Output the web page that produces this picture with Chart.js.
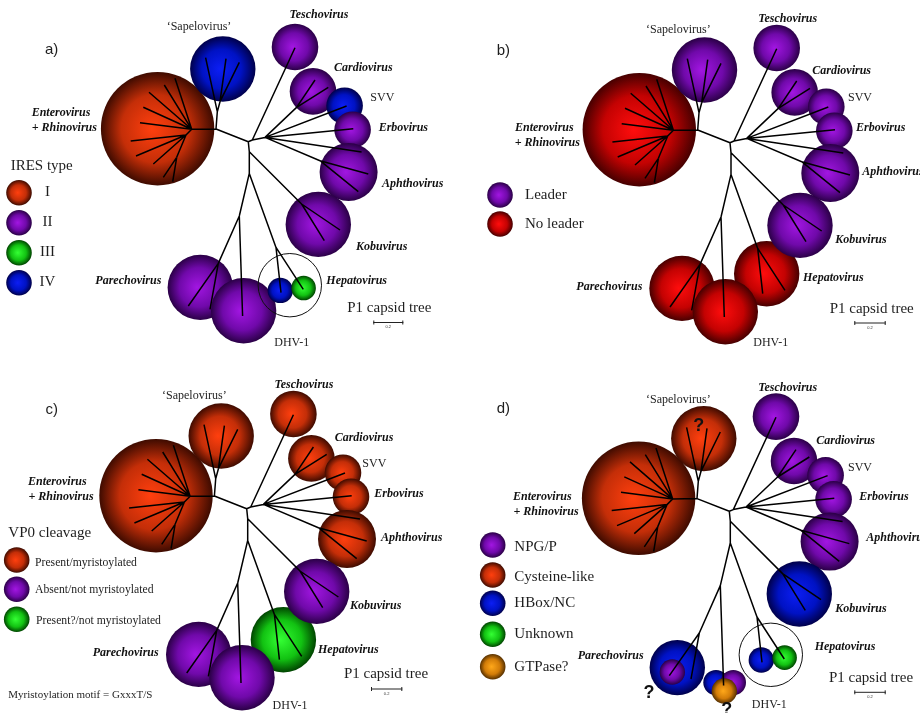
<!DOCTYPE html>
<html>
<head>
<meta charset="utf-8">
<script src="https://cdn.jsdelivr.net/npm/chart.js@4.4.1/dist/chart.umd.min.js"></script>
<style>
  html, body { margin: 0; padding: 0; background: #fff; }
  #fig { position: relative; width: 920px; height: 713px; overflow: hidden; }
  .panel { position: absolute; }
  .panel canvas { display: block; }
</style>
</head>
<body>
<div id="fig">
  <div class="panel" style="left:0;top:0;width:460px;height:356px"><canvas id="pa" width="460" height="356"></canvas></div>
  <div class="panel" style="left:460px;top:0;width:460px;height:356px"><canvas id="pb" width="460" height="356"></canvas></div>
  <div class="panel" style="left:0;top:356px;width:460px;height:357px"><canvas id="pc" width="460" height="357"></canvas></div>
  <div class="panel" style="left:460px;top:356px;width:460px;height:357px"><canvas id="pd" width="460" height="357"></canvas></div>
</div>
<script>
// ---- Picornavirus P1 capsid tree: clade bubbles (offset from the root, y down) ----
const clades = ['Enterovirus', 'Sapelovirus', 'Teschovirus', 'Cardiovirus', 'SVV', 'Erbovirus',
                'Aphthovirus', 'Kobuvirus', 'Parechovirus', 'DHV-1', 'Hepatovirus'];
const cladeX = [-90.7, -25.5, 46.7, 64.7, 96.3, 104.3, 100.3, 70.0, -48.0, -4.7, 36.7];
const cladeY = [-13.0, -72.7, -94.7, -50.3, -36.0, -12.0, 30.3, 82.7, 145.7, 169.0, 131.0];
const cladeR = [56.7, 32.7, 23.3, 23.3, 18.3, 18.3, 29.0, 32.7, 32.7, 32.7, 32.7];

// split clades (shown as separate members where they differ)
const hepSubX = [32.0, 55.3],  hepSubY = [148.7, 146.3],  hepSubR = [12.7, 12.3];
const parSubX = [-52.0, -57.0], parSubY = [156.3, 160.7], parSubR = [27.7, 12.7];
const dhvSubX = [-13.3, 4.0, -5.0], dhvSubY = [171.3, 171.3, 179.7], dhvSubR = [12.7, 12.7, 12.7];
const hepRing = { x: 41.5, y: 143.5, r: 31.7 };

// ---- traits ----
const iresLevels = ['I', 'II', 'III', 'IV'];
const iresType   = ['I', 'IV', 'II', 'II', 'IV', 'II', 'II', 'II', 'II', 'II', null];
const iresHepSub = ['IV', 'III'];

const leaderLevels = ['Leader', 'No leader'];
const leaderType   = ['No leader', 'Leader', 'Leader', 'Leader', 'Leader', 'Leader', 'Leader',
                      'Leader', 'No leader', 'No leader', 'No leader'];

const vp0Levels = ['Present/myristoylated', 'Absent/not myristoylated', 'Present?/not myristoylated'];
const vp0Type   = ['Present/myristoylated', 'Present/myristoylated', 'Present/myristoylated',
                   'Present/myristoylated', 'Present/myristoylated', 'Present/myristoylated',
                   'Present/myristoylated', 'Absent/not myristoylated', 'Absent/not myristoylated',
                   'Absent/not myristoylated', 'Present?/not myristoylated'];

const twoALevels = ['NPG/P', 'Cysteine-like', 'HBox/NC', 'Unknown', 'GTPase?'];
const twoAType   = ['Cysteine-like', 'Cysteine-like', 'NPG/P', 'NPG/P', 'NPG/P', 'NPG/P', 'NPG/P',
                    'HBox/NC', null, null, null];
const twoAParSub = ['HBox/NC', 'NPG/P'];
const twoADhvSub = ['HBox/NC', 'NPG/P', 'GTPase?'];
const twoAHepSub = ['HBox/NC', 'Unknown'];

// ---- tree topology ----
const treeNodes = {
  root: [0, 0], entSap: [-32.3, -12.7], entero: [-56.6, -12.4],
  sapBase: [-31, -30], sapInner: [-28.3, -40], sapA: [-42.7, -84], sapB: [-22.3, -83], sapC: [-9, -79.3],
  ev1: [-73.3, -63.4], ev2: [-84, -56.7], ev3: [-99.3, -49.4], ev4: [-105, -34.4], ev5: [-108.3, -19],
  evLow: [-62.3, -6.7], ev6: [-117.6, -0.7], ev7: [-112.3, 14.3], ev8: [-95, 22.3],
  evLow2: [-71.6, 15.6], ev9: [-85, 35.6], ev10: [-75.6, 40],
  right1: [4, -1.7], tesch: [46.7, -94], right2: [16.7, -4.3],
  cardio: [48.3, -34.3], cv1: [66.7, -61.7], cv2: [80, -54.3],
  svv: [98.3, -35.7], erbo: [105, -13], fmdv1: [113.3, 10.3],
  aphtho: [71.7, 19], fmdv2: [120, 32.3], fmdv3: [110, 50],
  down1: [1, 10], kobu: [53.3, 62.3], kv1: [91.7, 88.3], kv2: [76, 99],
  down2: [1, 31.7], pare: [-9, 74.3], pareInner: [-30, 121.7], pv1: [-60, 164.3], pv2: [-38.3, 167.7],
  dhv: [-5.7, 174.3], hepato: [27.7, 105.7], hv1: [32.7, 151], hv2: [55, 147.7]
};
const treeEdges = [
  ['root', 'entSap'], ['entSap', 'entero'], ['entSap', 'sapBase'], ['sapBase', 'sapA'],
  ['sapBase', 'sapInner'], ['sapInner', 'sapB'], ['sapInner', 'sapC'],
  ['entero', 'ev1'], ['entero', 'ev2'], ['entero', 'ev3'], ['entero', 'ev4'], ['entero', 'ev5'],
  ['entero', 'evLow'], ['evLow', 'ev6'], ['evLow', 'ev7'], ['evLow', 'ev8'], ['evLow', 'evLow2'],
  ['evLow2', 'ev9'], ['evLow2', 'ev10'],
  ['root', 'right1'], ['right1', 'tesch'], ['right1', 'right2'], ['right2', 'cardio'],
  ['cardio', 'cv1'], ['cardio', 'cv2'], ['right2', 'svv'], ['right2', 'erbo'], ['right2', 'fmdv1'],
  ['right2', 'aphtho'], ['aphtho', 'fmdv2'], ['aphtho', 'fmdv3'],
  ['root', 'down1'], ['down1', 'kobu'], ['kobu', 'kv1'], ['kobu', 'kv2'], ['down1', 'down2'],
  ['down2', 'pare'], ['pare', 'pareInner'], ['pareInner', 'pv1'], ['pareInner', 'pv2'],
  ['pare', 'dhv'], ['down2', 'hepato'], ['hepato', 'hv1'], ['hepato', 'hv2']
];

// ---- shading ----
const PAL = {
  orange: ['#ff3f0e', '#c42e08', '#3e0b00'],
  purple: ['#a216e2', '#7009aa', '#2a0046'],
  blue:   ['#0c1ef4', '#0012c4', '#00004a'],
  green:  ['#34ff34', '#12c212', '#004400'],
  red:    ['#ff0d0d', '#c40202', '#460000'],
  amber:  ['#ffa81a', '#d27c08', '#563000']
};
function sphere(ctx, x, y, r, pal) {
  if (![x, y, r].every(Number.isFinite) || r <= 0) return pal[1];
  const g = ctx.createRadialGradient(x - 0.1 * r, y, 0, x, y, r);
  g.addColorStop(0, pal[0]);
  g.addColorStop(0.6, pal[1]);
  g.addColorStop(1, pal[2]);
  return g;
}

const drawOrder = [0, 1, 2, 3, 4, 5, 6, 10, 7, 8, 9];
function cladeBubbles(cats, levels, pals, subs) {
  const out = [];
  drawOrder.forEach(i => {
    if (cats[i]) out.push({ x: cladeX[i], y: cladeY[i], r: cladeR[i], pal: pals[levels.indexOf(cats[i])] });
  });
  subs.forEach(s => s.cats.forEach((c, k) => {
    out.push({ x: s.x[k], y: s.y[k], r: s.r[k], pal: pals[levels.indexOf(c)] });
  }));
  return out;
}
function treeSegments() {
  const pts = [];
  treeEdges.forEach(([a, b]) => {
    const p = treeNodes[a], q = treeNodes[b];
    pts.push({ x: p[0], y: p[1] }, { x: q[0], y: q[1] }, { x: q[0], y: null });
  });
  return pts;
}

const FONTS = {
  genus: 'italic bold 12px "Liberation Serif"',
  plain: '12px "Liberation Serif"',
  caption: '15px "Liberation Serif"',
  item: '11.7px "Liberation Serif"',
  note: '11px "Liberation Serif"',
  tag: '15px "Liberation Sans"',
  q: 'bold 18px "Liberation Sans"',
  tiny: '4px "Liberation Sans"'
};

const annotate = {
  id: 'annotate',
  afterDatasetsDraw(chart, args, o) {
    const ctx = chart.ctx;
    ctx.save();
    ctx.textBaseline = 'middle';
    // legend swatches
    (o.swatches || []).forEach(([x, y, pal]) => {
      ctx.beginPath();
      ctx.arc(x, y, 12.8, 0, Math.PI * 2);
      ctx.fillStyle = sphere(ctx, x, y, 12.8, PAL[pal]);
      ctx.fill();
    });
    // text
    (o.labels || []).forEach(([t, x, y, s, al]) => {
      ctx.font = FONTS[s];
      ctx.fillStyle = s === 'genus' || s === 'q' ? '#111' : '#1e1e1e';
      ctx.textAlign = al || 'center';
      ctx.fillText(t, x, y);
    });
    // scale bar (0.2 substitutions/site)
    const [x1, x2, y] = o.bar;
    ctx.strokeStyle = '#222';
    ctx.lineWidth = 1;
    ctx.beginPath();
    ctx.moveTo(x1, y + 0.5); ctx.lineTo(x2, y + 0.5);
    ctx.moveTo(x1 + 0.5, y - 1.5); ctx.lineTo(x1 + 0.5, y + 2.5);
    ctx.moveTo(x2 - 0.5, y - 1.5); ctx.lineTo(x2 - 0.5, y + 2.5);
    ctx.stroke();
    ctx.font = FONTS.tiny;
    ctx.textAlign = 'center';
    ctx.fillStyle = '#333';
    ctx.fillText('0.2', (x1 + x2) / 2, y + 5);
    ctx.restore();
  }
};

function genusLabels(p) {
  return [
    ['‘Sapelovirus’', p.sap[0], p.sap[1], 'plain'],
    ['Teschovirus', p.tes[0], p.tes[1], 'genus'],
    ['Cardiovirus', p.car[0], p.car[1], 'genus'],
    ['SVV', p.svv[0], p.svv[1], 'plain'],
    ['Erbovirus', p.erb[0], p.erb[1], 'genus'],
    ['Aphthovirus', p.aph[0], p.aph[1], 'genus'],
    ['Kobuvirus', p.kob[0], p.kob[1], 'genus'],
    ['Hepatovirus', p.hep[0], p.hep[1], 'genus'],
    ['Parechovirus', p.par[0], p.par[1], 'genus'],
    ['DHV-1', p.dhv[0], p.dhv[1], 'plain'],
    ['Enterovirus', p.ent[0], p.ent[1], 'genus'],
    ['+ Rhinovirus', p.rhi[0], p.rhi[1], 'genus'],
    ['P1 capsid tree', p.p1[0], p.p1[1], 'caption']
  ];
}

const panels = [
  {
    id: 'pa', h: 356, root: [248.3, 141.7],
    bubbles: cladeBubbles(iresType, iresLevels, ['orange', 'purple', 'green', 'blue'],
      [{ x: hepSubX, y: hepSubY, r: hepSubR, cats: iresHepSub }]),
    ring: true,
    labels: genusLabels({
      sap: [199, 26.7], tes: [319, 15], car: [363.3, 68.3], svv: [382.3, 97.7], erb: [403.3, 128.3],
      aph: [412.7, 184], kob: [381.7, 247.3], hep: [356.7, 281], par: [128.3, 281], dhv: [291.7, 343.3],
      ent: [61, 113.3], rhi: [64.3, 128.3], p1: [389.3, 308.3]
    }).concat([
      ['a)', 51.7, 50, 'tag'],
      ['IRES type', 10.7, 166, 'caption', 'left'],
      ['I', 47.5, 192.2, 'caption'], ['II', 47.5, 222.2, 'caption'],
      ['III', 47.5, 252.2, 'caption'], ['IV', 47.5, 282.2, 'caption']
    ]),
    swatches: [[19, 192.7, 'orange'], [19, 222.7, 'purple'], [19, 252.7, 'green'], [19, 282.7, 'blue']],
    bar: [373.3, 403.3, 322]
  },
  {
    id: 'pb', h: 356, root: [270, 142.7],
    bubbles: cladeBubbles(leaderType, leaderLevels, ['purple', 'red'], []),
    ring: false,
    labels: genusLabels({
      sap: [218.3, 30], tes: [327.7, 19], car: [381.7, 71], svv: [400, 97.7], erb: [420.7, 127.7],
      aph: [433, 172.3], kob: [401, 240], hep: [373.3, 277.7], par: [149.3, 286.7], dhv: [310.7, 343.3],
      ent: [84.3, 127.7], rhi: [87.3, 142.7], p1: [411.7, 309.3]
    }).concat([
      ['b)', 43.3, 50.7, 'tag'],
      ['Leader', 65, 195, 'caption', 'left'], ['No leader', 65, 224, 'caption', 'left']
    ]),
    swatches: [[40, 195, 'purple'], [40, 224, 'red']],
    bar: [394.3, 425.7, 322.5]
  },
  {
    id: 'pc', h: 357, root: [246.7, 152.7],
    bubbles: cladeBubbles(vp0Type, vp0Levels, ['orange', 'purple', 'green'], []),
    ring: false,
    labels: genusLabels({
      sap: [194.3, 40], tes: [304, 29], car: [364, 82], svv: [374.3, 107.7], erb: [399, 137.7],
      aph: [411.7, 182.3], kob: [375.7, 250], hep: [348.3, 294], par: [125.7, 296.7], dhv: [290, 350],
      ent: [57.3, 126], rhi: [61, 141], p1: [386, 318.3]
    }).concat([
      ['c)', 51.7, 54.3, 'tag'],
      ['VP0 cleavage', 8.3, 177.3, 'caption', 'left'],
      ['Present/myristoylated', 35, 206.5, 'item', 'left'],
      ['Absent/not myristoylated', 35, 234, 'item', 'left'],
      ['Present?/not myristoylated', 36, 265, 'item', 'left'],
      ['Myristoylation motif = GxxxT/S', 8.3, 339.3, 'note', 'left']
    ]),
    swatches: [[16.7, 204, 'orange'], [16.7, 233.3, 'purple'], [16.7, 263.3, 'green']],
    bar: [371, 402.3, 332.5]
  },
  {
    id: 'pd', h: 357, root: [269.3, 155.3],
    bubbles: cladeBubbles(twoAType, twoALevels, ['purple', 'orange', 'blue', 'green', 'amber'], [
      { x: parSubX, y: parSubY, r: parSubR, cats: twoAParSub },
      { x: dhvSubX, y: dhvSubY, r: dhvSubR, cats: twoADhvSub },
      { x: hepSubX, y: hepSubY, r: hepSubR, cats: twoAHepSub }
    ]),
    ring: true,
    labels: genusLabels({
      sap: [218.3, 44], tes: [327.7, 32.3], car: [385.7, 85], svv: [400, 111.7], erb: [424, 141],
      aph: [437, 182.3], kob: [401, 252.7], hep: [385, 291], par: [150.7, 300], dhv: [309.3, 349.3],
      ent: [82.3, 141], rhi: [86, 156], p1: [411, 322.3]
    }).concat([
      ['d)', 43.3, 53.3, 'tag'],
      ['NPG/P', 54.3, 191, 'caption', 'left'], ['Cysteine-like', 54.3, 221, 'caption', 'left'],
      ['HBox/NC', 54.3, 247.3, 'caption', 'left'], ['Unknown', 54.3, 278.3, 'caption', 'left'],
      ['GTPase?', 54.3, 310.7, 'caption', 'left'],
      ['?', 238.7, 70, 'q'], ['?', 189, 336.7, 'q'], ['?', 266.7, 354, 'q']
    ]),
    swatches: [[32.7, 189, 'purple'], [32.7, 219, 'orange'], [32.7, 247.3, 'blue'],
               [32.7, 278.3, 'green'], [32.7, 310.7, 'amber']],
    bar: [394.3, 425.7, 335.8]
  }
];

panels.forEach(p => {
  const datasets = [
    {
      type: 'line', label: 'tree', data: treeSegments(), order: 0,
      borderColor: '#000', borderWidth: 1.5, pointRadius: 0, tension: 0,
      spanGaps: false, fill: false, clip: false
    },
    {
      type: 'bubble', label: 'clades', data: p.bubbles, order: 2, clip: false,
      borderWidth: 0,
      backgroundColor: c => {
        const raw = c.raw;
        if (!raw || !raw.pal) return 'rgba(0,0,0,0)';
        const ch = c.chart, xs = ch.scales.x, ys = ch.scales.y;
        if (!xs || !ys) return PAL[raw.pal][1];
        return sphere(ch.ctx, xs.getPixelForValue(raw.x), ys.getPixelForValue(raw.y), raw.r, PAL[raw.pal]);
      }
    }
  ];
  if (p.ring) {
    datasets.push({
      type: 'bubble', label: 'Hepatovirus', data: [hepRing], order: 1, clip: false,
      backgroundColor: 'rgba(0,0,0,0)', borderColor: '#111', borderWidth: 1
    });
  }
  const chart = new Chart(document.getElementById(p.id), {
    type: 'bubble',
    data: { datasets },
    options: {
      responsive: false,
      animation: false,
      events: [],
      devicePixelRatio: 1,
      layout: { padding: 0, autoPadding: false },
      scales: {
        x: { type: 'linear', display: false, min: -p.root[0], max: 460 - p.root[0] },
        y: { type: 'linear', display: false, reverse: true, min: -p.root[1], max: p.h - p.root[1] }
      },
      plugins: {
        legend: { display: false },
        tooltip: { enabled: false },
        annotate: { labels: p.labels, swatches: p.swatches, bar: p.bar }
      }
    },
    plugins: [annotate]
  });
  chart.update();
});
</script>
</body>
</html>
